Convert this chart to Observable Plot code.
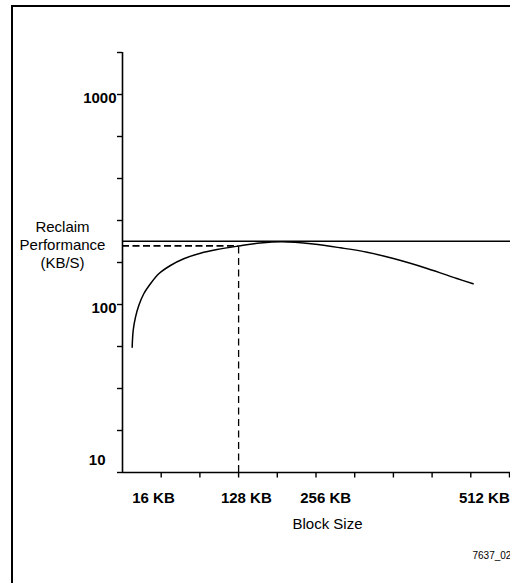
<!DOCTYPE html>
<html>
<head>
<meta charset="utf-8">
<script src="https://cdn.jsdelivr.net/npm/d3@7"></script>
<script src="https://cdn.jsdelivr.net/npm/@observablehq/plot@0.6"></script>
<style>
  body { margin: 0; overflow: hidden; background: #fff; font-family: "Liberation Sans", Arial, sans-serif; }
  #frame { position: absolute; left: 11px; top: 5px; width: 700px; height: 800px; border: 2px solid #000; box-sizing: border-box; }
  #chart { position: absolute; left: 0; top: 0; }
</style>
</head>
<body>
<div id="frame"></div>
<div id="chart"></div>
<script>
// Schematic axis: x positions are tick-index units (ticks 1..10), y is log scale (5 ticks per decade)
const xTicks = [1, 2, 3, 4, 5, 6, 7, 8, 9, 10];
const xTickLabels = ["16 KB", "128 KB", "256 KB", "512 KB"];
const xLabelAt = [0.8, 3.2, 5.25, 9.35];
const yTicks = [15.85, 25.12, 39.81, 63.10, 100, 158.5, 251.2, 398.1, 631.0, 1000, 1585];
const yTickLabels = ["1000", "100"];
const yLabelAt = [1000, 100];
const yBaseLabel = "10";

// Curve: reclaim performance vs block size
const curveX = [0.25, 0.276, 0.336, 0.421, 0.55, 0.723, 0.937, 1.239, 1.583, 2.014, 2.445, 3.0, 3.56, 4.13, 4.93, 5.63, 6.32, 7.0, 7.87, 8.64, 9.06];
const curveY = [62.6, 75.2, 87.0, 98.9, 112.5, 125.5, 140.0, 153.4, 165.1, 175.5, 182.8, 189.9, 196.3, 199, 194.0, 186.2, 177.4, 165.5, 148.5, 133.0, 125.5];

const peakLevel = 200;      // solid horizontal reference line
const markerX = 3;          // 128 KB
const markerY = 190;        // performance at 128 KB

const yTitle = "Reclaim\nPerformance\n(KB/S)";
const xTitle = "Block Size";
const figId = "7637_02";

const curve = curveX.map((x, i) => ({x, y: curveY[i]}));
const yMin = yTicks[0], yMax = yTicks[yTicks.length - 1];

const chart = Plot.plot({
  width: 510,
  height: 583,
  marginLeft: 122,
  marginRight: 1,
  marginTop: 52,
  marginBottom: 111,
  style: {fontFamily: "'Liberation Sans', Arial, sans-serif", background: "transparent", overflow: "visible"},
  x: {type: "linear", domain: [0, 10], axis: null},
  y: {type: "log", domain: [yMin, yMax], axis: null},
  marks: [
    // axes
    Plot.ruleX([0], {stroke: "#000", strokeWidth: 1.6}),
    Plot.ruleY([yMin], {stroke: "#000", strokeWidth: 1.6, x1: 0, x2: 10.03}),
    Plot.axisY(yTicks, {tickSize: 5, tickFormat: () => "", label: null, stroke: "#000", strokeWidth: 1.4, strokeOpacity: 1}),
    Plot.axisX(xTicks, {tickSize: 5.5, tickFormat: () => "", label: null, stroke: "#000", strokeWidth: 1.4, strokeOpacity: 1}),
    // reference lines
    Plot.ruleY([peakLevel], {x1: 0, x2: 10.03, stroke: "#000", strokeWidth: 1.4}),
    Plot.ruleY([markerY], {x1: 0, x2: markerX, stroke: "#000", strokeWidth: 1.8, strokeDasharray: "7,3.5"}),
    Plot.ruleX([markerX], {y1: yMin, y2: markerY, stroke: "#000", strokeWidth: 1.3, strokeDasharray: "7,4.5"}),
    // curve
    Plot.line(curve, {x: "x", y: "y", curve: "catmull-rom", stroke: "#000", strokeWidth: 1.5}),
    // y tick labels
    Plot.text(yTickLabels, {x: 0, y: (d, i) => yLabelAt[i], text: d => d, textAnchor: "end", dx: -6, dy: 3.5, fontSize: 15, fontWeight: "bold", fill: "#000"}),
    Plot.text([yBaseLabel], {x: 0, y: [yMin], text: d => d, textAnchor: "end", dx: -17, dy: -12, fontSize: 15, fontWeight: "bold", fill: "#000"}),
    // x tick labels
    Plot.text(xTickLabels, {x: (d, i) => xLabelAt[i], y: [yMin, yMin, yMin, yMin], text: d => d, dy: 26, fontSize: 15, fontWeight: "bold", fill: "#000"}),
    // titles
    Plot.text([yTitle], {frameAnchor: "left", text: d => d, textAnchor: "middle", dx: -60, dy: -18, lineHeight: 1.2, fontSize: 15, fill: "#000"}),
    Plot.text([xTitle], {frameAnchor: "bottom", text: d => d, dx: 11.5, dy: 56, fontSize: 15, fill: "#000"}),
    Plot.text([figId], {frameAnchor: "bottom-right", text: d => d, textAnchor: "start", dx: -37, dy: 86, fontSize: 10, fill: "#000"})
  ]
});
document.getElementById("chart").appendChild(chart);
</script>
</body>
</html>
